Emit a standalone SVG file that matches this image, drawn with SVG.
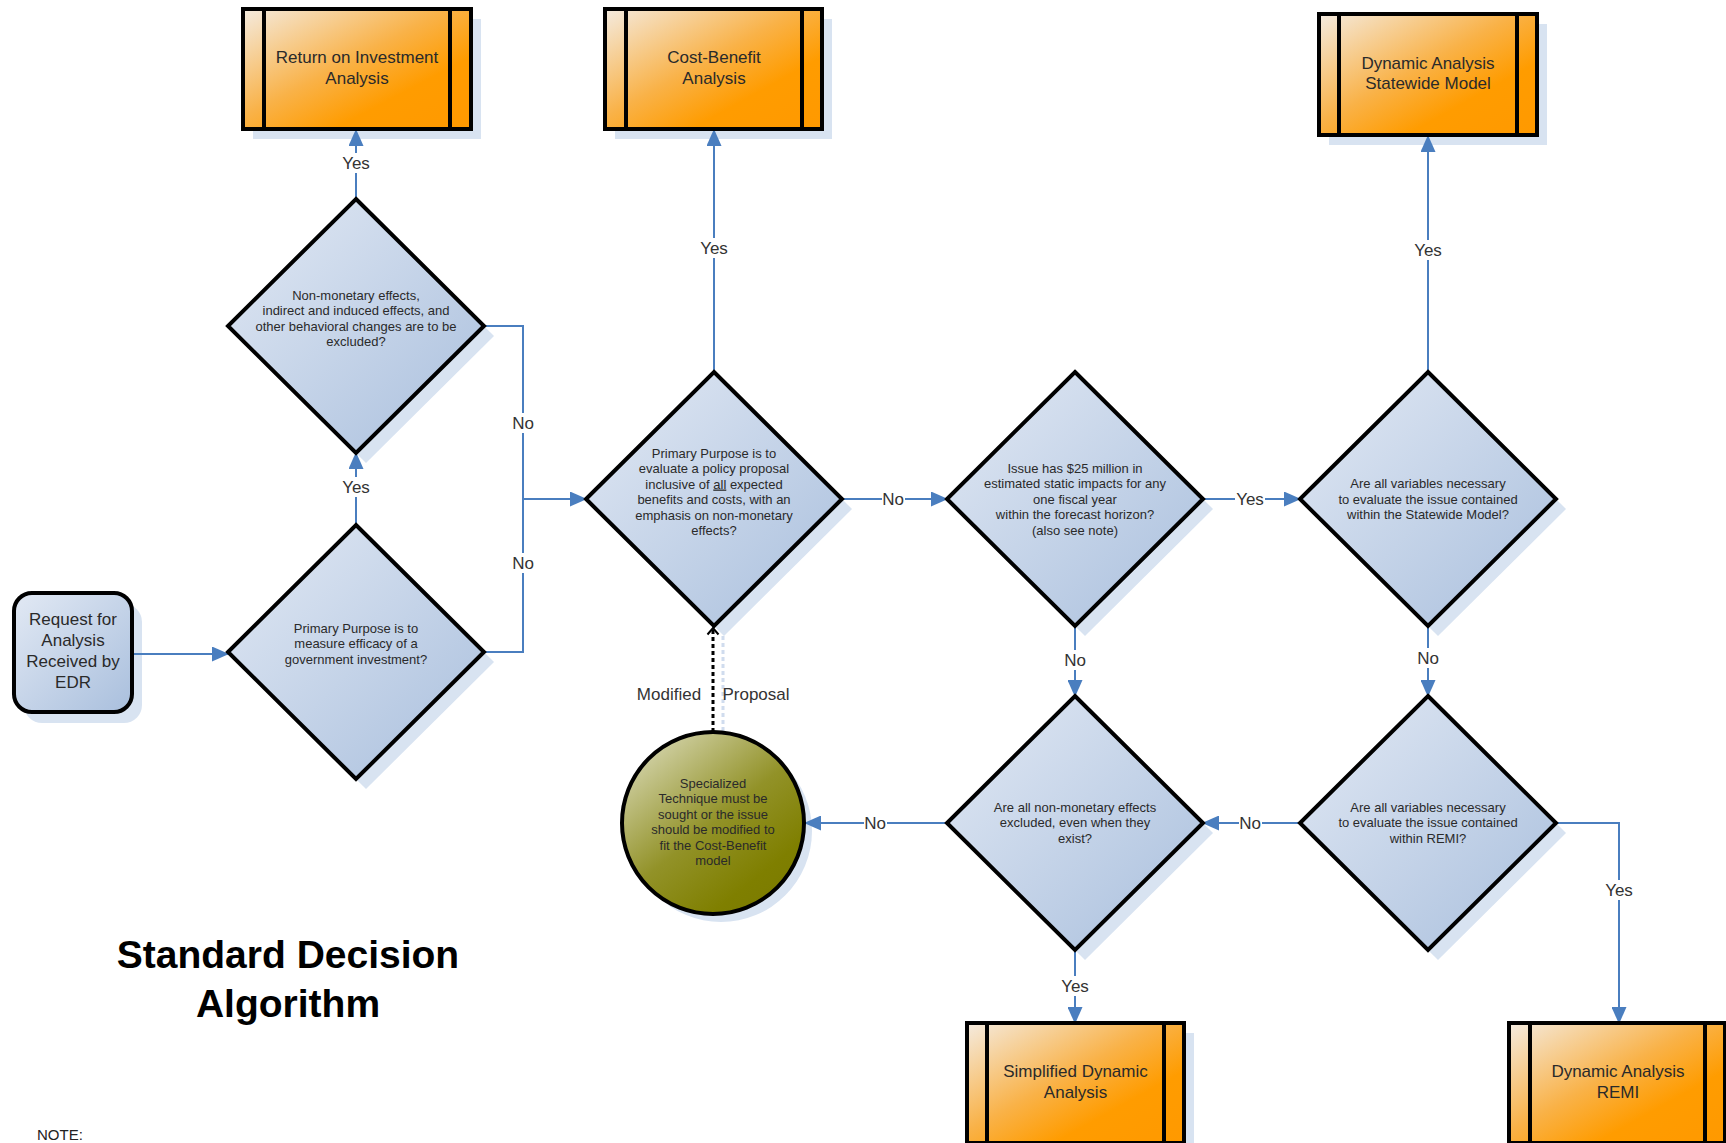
<svg xmlns="http://www.w3.org/2000/svg" width="1726" height="1143" viewBox="0 0 1726 1143">
<defs>
<linearGradient id="gBlue" x1="0" y1="0" x2="1" y2="1">
<stop offset="0" stop-color="#e2e9f4"/>
<stop offset="1" stop-color="#a9bfdd"/>
</linearGradient>
<linearGradient id="gOrange" x1="0" y1="0" x2="1" y2="1">
<stop offset="0" stop-color="#f4ebe0"/>
<stop offset="0.45" stop-color="#f9b248"/>
<stop offset="0.7" stop-color="#ff9c00"/>
<stop offset="1" stop-color="#ff9900"/>
</linearGradient>
<linearGradient id="gOlive" x1="0.1" y1="0" x2="0.9" y2="1">
<stop offset="0" stop-color="#dcdcbc"/>
<stop offset="0.5" stop-color="#929228"/>
<stop offset="0.8" stop-color="#7f7f00"/>
<stop offset="1" stop-color="#7a7a00"/>
</linearGradient>
<marker id="arr" markerUnits="userSpaceOnUse" markerWidth="17" markerHeight="15" refX="16" refY="7.5" orient="auto">
<path d="M0,0 L17,7.5 L0,15 z" fill="#4a7ebf"/>
</marker>
<marker id="open" markerUnits="userSpaceOnUse" markerWidth="14" markerHeight="12" refX="7" refY="1.5" orient="0">
<path d="M1.5,8 L7,1.5 L12.5,8" fill="none" stroke="#000" stroke-width="2"/>
</marker>
<style>
.shadow{fill:#d8e3f1;stroke:none}
.dia{fill:url(#gBlue);stroke:#000;stroke-width:4;stroke-linejoin:miter}
.box{fill:url(#gOrange);stroke:#000;stroke-width:4}
.bar{stroke:#000;stroke-width:4}
.req{fill:url(#gBlue);stroke:#000;stroke-width:4}
.circ{fill:url(#gOlive);stroke:#000;stroke-width:4}
.conn{fill:none;stroke:#4a7ebf;stroke-width:2}
.t13{font-family:"Liberation Sans",Arial,sans-serif;font-size:13px;fill:#2a2a2a;text-anchor:middle}
.t17{font-family:"Liberation Sans",Arial,sans-serif;font-size:17px;fill:#2a2a2a;text-anchor:middle}
.lbl{font-family:"Liberation Sans",Arial,sans-serif;font-size:17px;fill:#333;text-anchor:middle}
.lblbg{fill:#fff}
.title{font-family:"Liberation Sans",Arial,sans-serif;font-size:39px;font-weight:bold;fill:#000;text-anchor:middle}
</style>
</defs>
<rect width="1726" height="1143" fill="#fff"/>

<!-- shadows -->
<g id="shadows">
<rect class="shadow" x="253" y="19" width="228" height="120"/>
<rect class="shadow" x="615" y="19" width="217" height="120"/>
<rect class="shadow" x="1329" y="24" width="218" height="121"/>
<rect class="shadow" x="977" y="1033" width="217" height="120"/>
<rect class="shadow" x="1519" y="1033" width="216" height="120"/>
<rect class="shadow" x="24" y="604" width="118" height="119" rx="18"/>
<polygon class="shadow" points="366,209 494,336 366,463 238,336"/>
<polygon class="shadow" points="366,535 494,662 366,789 238,662"/>
<polygon class="shadow" points="724,382 852,509 724,636 596,509"/>
<polygon class="shadow" points="1085,382 1213,509 1085,636 957,509"/>
<polygon class="shadow" points="1438,382 1566,509 1438,636 1310,509"/>
<polygon class="shadow" points="1085,706 1213,833 1085,960 957,833"/>
<polygon class="shadow" points="1438,706 1566,833 1438,960 1310,833"/>
<circle class="shadow" cx="721" cy="831" r="91"/>
</g>

<!-- connectors -->
<g id="connectors">
<path class="conn" d="M132,654 H228" marker-end="url(#arr)"/>
<path class="conn" d="M356,525 V453" marker-end="url(#arr)"/>
<path class="conn" d="M356,199 V130" marker-end="url(#arr)"/>
<path class="conn" d="M484,326 H523 V499 H586" marker-end="url(#arr)"/>
<path class="conn" d="M484,652 H523 V499"/>
<path class="conn" d="M714,372 V130" marker-end="url(#arr)"/>
<path class="conn" d="M842,499 H947" marker-end="url(#arr)"/>
<path class="conn" d="M1203,499 H1300" marker-end="url(#arr)"/>
<path class="conn" d="M1428,372 V136" marker-end="url(#arr)"/>
<path class="conn" d="M1075,626 V696" marker-end="url(#arr)"/>
<path class="conn" d="M1428,626 V696" marker-end="url(#arr)"/>
<path class="conn" d="M1300,823 H1203" marker-end="url(#arr)"/>
<path class="conn" d="M947,823 H805" marker-end="url(#arr)"/>
<path class="conn" d="M1075,950 V1023" marker-end="url(#arr)"/>
<path class="conn" d="M1556,823 H1619 V1023" marker-end="url(#arr)"/>
<line x1="723" y1="636" x2="723" y2="742" stroke="#d0dcee" stroke-width="3" stroke-dasharray="4,3"/>
<line x1="713" y1="732" x2="713" y2="628" stroke="#000" stroke-width="3" stroke-dasharray="4,3" marker-end="url(#open)"/>

<rect class="lblbg" x="341" y="153" width="30" height="20"/>
<text class="lbl" x="356" y="169">Yes</text>
<rect class="lblbg" x="341" y="477" width="30" height="20"/>
<text class="lbl" x="356" y="493">Yes</text>
<rect class="lblbg" x="512" y="413" width="23" height="20"/>
<text class="lbl" x="523" y="429">No</text>
<rect class="lblbg" x="512" y="553" width="23" height="20"/>
<text class="lbl" x="523" y="569">No</text>
<rect class="lblbg" x="699" y="238" width="30" height="20"/>
<text class="lbl" x="714" y="254">Yes</text>
<rect class="lblbg" x="882" y="489" width="23" height="20"/>
<text class="lbl" x="893" y="505">No</text>
<rect class="lblbg" x="1235" y="489" width="30" height="20"/>
<text class="lbl" x="1250" y="505">Yes</text>
<rect class="lblbg" x="1413" y="240" width="30" height="20"/>
<text class="lbl" x="1428" y="256">Yes</text>
<rect class="lblbg" x="1064" y="650" width="23" height="20"/>
<text class="lbl" x="1075" y="666">No</text>
<rect class="lblbg" x="1417" y="648" width="23" height="20"/>
<text class="lbl" x="1428" y="664">No</text>
<rect class="lblbg" x="1239" y="813" width="23" height="20"/>
<text class="lbl" x="1250" y="829">No</text>
<rect class="lblbg" x="864" y="813" width="23" height="20"/>
<text class="lbl" x="875" y="829">No</text>
<rect class="lblbg" x="1060" y="976" width="30" height="20"/>
<text class="lbl" x="1075" y="992">Yes</text>
<rect class="lblbg" x="1604" y="880" width="30" height="20"/>
<text class="lbl" x="1619" y="896">Yes</text>
<text class="lbl" x="669" y="700">Modified</text>
<text class="lbl" x="756" y="700">Proposal</text>
</g>

<!-- nodes -->
<g id="request">
<rect class="req" x="14" y="593" width="118" height="119" rx="18"/>
<text class="t17" x="73" y="625">Request for</text>
<text class="t17" x="73" y="646">Analysis</text>
<text class="t17" x="73" y="667">Received by</text>
<text class="t17" x="73" y="688">EDR</text>
</g>

<g id="d-efficacy">
<polygon class="dia" points="356,525 484,652 356,779 228,652"/>
<text class="t13" x="356" y="632.5">Primary Purpose is to</text>
<text class="t13" x="356" y="648">measure efficacy of a</text>
<text class="t13" x="356" y="663.5">government investment?</text>
</g>

<g id="d-nonmonetary">
<polygon class="dia" points="356,199 484,326 356,453 228,326"/>
<text class="t13" x="356" y="299.5">Non-monetary effects,</text>
<text class="t13" x="356" y="315">indirect and induced effects, and</text>
<text class="t13" x="356" y="330.5">other behavioral changes are to be</text>
<text class="t13" x="356" y="346">excluded?</text>
</g>

<g id="roi">
<rect class="box" x="243" y="9" width="228" height="120"/>
<line class="bar" x1="264" y1="9" x2="264" y2="129"/>
<line class="bar" x1="450" y1="9" x2="450" y2="129"/>
<text class="t17" x="357" y="63">Return on Investment</text>
<text class="t17" x="357" y="84">Analysis</text>
</g>

<g id="cba">
<rect class="box" x="605" y="9" width="217" height="120"/>
<line class="bar" x1="626" y1="9" x2="626" y2="129"/>
<line class="bar" x1="802" y1="9" x2="802" y2="129"/>
<text class="t17" x="714" y="63">Cost-Benefit</text>
<text class="t17" x="714" y="84">Analysis</text>
</g>

<g id="d-policy">
<polygon class="dia" points="714,372 842,499 714,626 586,499"/>
<text class="t13" x="714" y="457.5">Primary Purpose is to</text>
<text class="t13" x="714" y="473">evaluate a policy proposal</text>
<text class="t13" x="714" y="488.5">inclusive of <tspan style="text-decoration:underline">all</tspan> expected</text>
<text class="t13" x="714" y="504">benefits and costs, with an</text>
<text class="t13" x="714" y="519.5">emphasis on non-monetary</text>
<text class="t13" x="714" y="535">effects?</text>
</g>

<g id="d-25m">
<polygon class="dia" points="1075,372 1203,499 1075,626 947,499"/>
<text class="t13" x="1075" y="472.5">Issue has $25 million in</text>
<text class="t13" x="1075" y="488">estimated static impacts for any</text>
<text class="t13" x="1075" y="503.5">one fiscal year</text>
<text class="t13" x="1075" y="519">within the forecast horizon?</text>
<text class="t13" x="1075" y="534.5">(also see note)</text>
</g>

<g id="d-statewide">
<polygon class="dia" points="1428,372 1556,499 1428,626 1300,499"/>
<text class="t13" x="1428" y="488">Are all variables necessary</text>
<text class="t13" x="1428" y="503.5">to evaluate the issue contained</text>
<text class="t13" x="1428" y="519">within the Statewide Model?</text>
</g>

<g id="da-statewide">
<rect class="box" x="1319" y="14" width="218" height="121"/>
<line class="bar" x1="1339" y1="14" x2="1339" y2="135"/>
<line class="bar" x1="1517" y1="14" x2="1517" y2="135"/>
<text class="t17" x="1428" y="69">Dynamic Analysis</text>
<text class="t17" x="1428" y="89">Statewide Model</text>
</g>

<g id="d-remi">
<polygon class="dia" points="1428,696 1556,823 1428,950 1300,823"/>
<text class="t13" x="1428" y="811.5">Are all variables necessary</text>
<text class="t13" x="1428" y="827">to evaluate the issue contained</text>
<text class="t13" x="1428" y="842.5">within REMI?</text>
</g>

<g id="d-excluded">
<polygon class="dia" points="1075,696 1203,823 1075,950 947,823"/>
<text class="t13" x="1075" y="811.5">Are all non-monetary effects</text>
<text class="t13" x="1075" y="827">excluded, even when they</text>
<text class="t13" x="1075" y="842.5">exist?</text>
</g>

<g id="specialized">
<circle class="circ" cx="713" cy="823" r="91"/>
<text class="t13" x="713" y="787.5">Specialized</text>
<text class="t13" x="713" y="803">Technique must be</text>
<text class="t13" x="713" y="818.5">sought or the issue</text>
<text class="t13" x="713" y="834">should be modified to</text>
<text class="t13" x="713" y="849.5">fit the Cost-Benefit</text>
<text class="t13" x="713" y="865">model</text>
</g>

<g id="sda">
<rect class="box" x="967" y="1023" width="217" height="120"/>
<line class="bar" x1="987" y1="1023" x2="987" y2="1143"/>
<line class="bar" x1="1164" y1="1023" x2="1164" y2="1143"/>
<text class="t17" x="1075.5" y="1077">Simplified Dynamic</text>
<text class="t17" x="1075.5" y="1098">Analysis</text>
</g>

<g id="da-remi">
<rect class="box" x="1509" y="1023" width="216" height="120"/>
<line class="bar" x1="1530" y1="1023" x2="1530" y2="1143"/>
<line class="bar" x1="1705" y1="1023" x2="1705" y2="1143"/>
<text class="t17" x="1618" y="1077">Dynamic Analysis</text>
<text class="t17" x="1618" y="1098">REMI</text>
</g>

<g id="title">
<text class="title" x="288" y="968">Standard Decision</text>
<text class="title" x="288" y="1017">Algorithm</text>
</g>
<text x="37" y="1140" font-family="Liberation Sans, Arial, sans-serif" font-size="15" fill="#222">NOTE:</text>
</svg>
